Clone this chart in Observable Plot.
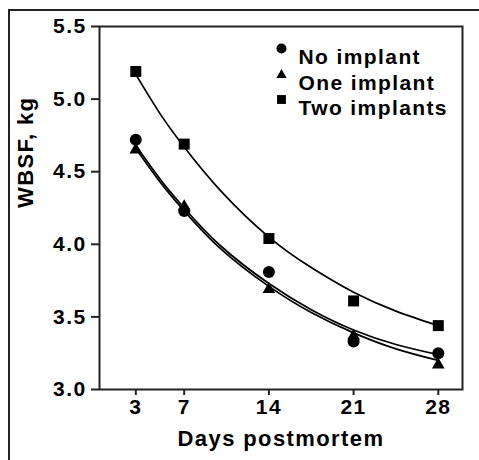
<!DOCTYPE html>
<html>
<head>
<meta charset="utf-8">
<script src="https://cdn.jsdelivr.net/npm/d3@7"></script>
<script src="https://cdn.jsdelivr.net/npm/@observablehq/plot@0.6"></script>
<style>
  html, body { margin: 0; padding: 0; background: #fff; }
  #wrap { position: relative; width: 479px; height: 460px; overflow: hidden; }
  #border { position: absolute; left: 8px; top: 9px; right: -10px; bottom: -10px;
            border-left: 2px solid #222; border-top: 2px solid #222; pointer-events: none; }
</style>
</head>
<body>
<div id="wrap"><div id="border"></div></div>
<script>
// Observed means
const days = [3, 7, 14, 21, 28];
const noImplant = [4.72, 4.23, 3.81, 3.33, 3.25];
const oneImplant = [4.65, 4.26, 3.69, 3.37, 3.17];
const twoImplants = [5.19, 4.69, 4.04, 3.61, 3.44];

// Fitted curves
const fitDays = [3, 5, 7, 10, 14, 17.5, 21, 24.5, 28];
const noImplantFit = [4.68, 4.45, 4.25, 3.99, 3.73, 3.55, 3.41, 3.31, 3.24];
const oneImplantFit = [4.66, 4.43, 4.23, 3.97, 3.71, 3.53, 3.39, 3.28, 3.20];
const twoImplantsFit = [5.17, 4.90, 4.67, 4.37, 4.05, 3.84, 3.67, 3.54, 3.44];

const seriesNames = ["No implant", "One implant", "Two implants"];
const yTicks = [3.0, 3.5, 4.0, 4.5, 5.0, 5.5];
const xTicks = [3, 7, 14, 21, 28];
const xLabel = "Days postmortem";
const yLabel = "WBSF, kg";

const values = [noImplant, oneImplant, twoImplants];
const fits = [noImplantFit, oneImplantFit, twoImplantsFit];
const symbols = ["circle", "triangle", "square"];
const radii = [6, 4.7, 6.2];
const legendRadii = [5, 3.8, 5];

const fitRows = fits.flatMap((f, s) => f.map((v, i) => ({series: seriesNames[s], day: fitDays[i], wbsf: v})));

const drawOrder = [1, 0, 2];
const dotMarks = drawOrder.map(s =>
  Plot.dot(values[s].map((v, i) => ({day: days[i], wbsf: v})),
    {x: "day", y: "wbsf", symbol: symbols[s], r: radii[s], fill: "#000", stroke: "none"}));

const legendMarks = seriesNames.flatMap((name, s) => [
  Plot.dot([name], {frameAnchor: "top-left", dx: 182, dy: 22 + s * 25.5 + (s === 1 ? 1 : 0), symbol: symbols[s], r: legendRadii[s], fill: "#000"}),
  Plot.text([name], {frameAnchor: "top-left", dx: 199, dy: 23 + s * 25.5, text: d => d, textAnchor: "start", fontSize: 21, letterSpacing: "1.3px"})
]);

const chart = Plot.plot({
  width: 479,
  height: 460,
  marginLeft: 99,
  marginRight: 17,
  marginTop: 26,
  marginBottom: 71,
  x: {domain: [0, 30]},
  y: {domain: [3, 5.5]},
  style: {fontFamily: "'Liberation Sans', Arial, sans-serif", fontWeight: "bold", fontSize: "21px", letterSpacing: "1.4px", color: "#000", background: "transparent"},
  marks: [
    Plot.line(fitRows, {x: "day", y: "wbsf", z: "series", curve: "natural", stroke: "#000", strokeWidth: 1.7}),
    ...dotMarks,
    Plot.frame({stroke: "#222", strokeWidth: 2}),
    Plot.axisY({ticks: yTicks, tickFormat: d3.format(".1f"), tickSize: 8, tickPadding: 5, label: null, stroke: "#222", strokeWidth: 2}),
    Plot.axisX({ticks: xTicks, tickSize: 6, tickPadding: 4, label: null, stroke: "#222", strokeWidth: 2}),
    Plot.text([yLabel], {frameAnchor: "left", rotate: -90, dx: -74, text: d => d, fontSize: 22}),
    Plot.text([xLabel], {frameAnchor: "bottom", dy: 56, text: d => d, fontSize: 22}),
    ...legendMarks
  ]
});
document.getElementById("wrap").prepend(chart);
</script>
</body>
</html>
